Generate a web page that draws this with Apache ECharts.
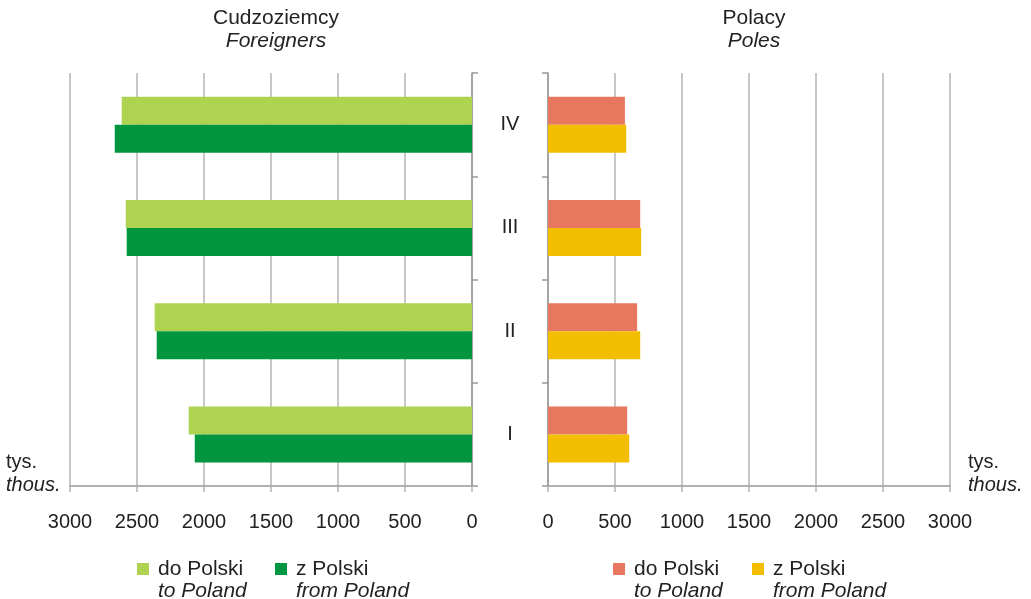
<!DOCTYPE html>
<html>
<head>
<meta charset="utf-8">
<script src="https://cdn.jsdelivr.net/npm/echarts@6/dist/echarts.min.js"></script>
<style>
  html, body { margin: 0; padding: 0; background: #fff; }
  #chart { width: 1031px; height: 599px; }
</style>
</head>
<body>
<div id="chart"></div>
<script>
// kwartaly (od dolu do gory)
const quarters = ['I', 'II', 'III', 'IV']
const valueTicks = [0, 500, 1000, 1500, 2000, 2500, 3000]

// Cudzoziemcy / Foreigners, tys.
const foreignToPoland = [2114, 2368, 2584, 2614]
const foreignFromPoland = [2069, 2353, 2577, 2666]

// Polacy / Poles, tys.
const polesToPoland = [591, 665, 688, 574]
const polesFromPoland = [606, 688, 695, 584]

const font = 'Liberation Sans, Arial, sans-serif'
const ink = '#222'
const gridGrey = '#b4b4b4'
const axisGrey = '#999'

const chart = echarts.init(document.getElementById('chart'), null, { renderer: 'canvas' })

function valueAxis(gridIndex, inverse) {
  return {
    type: 'value',
    gridIndex,
    inverse,
    min: valueTicks[0],
    max: valueTicks[valueTicks.length - 1],
    interval: 500,
    axisLine: { show: true, lineStyle: { color: axisGrey, width: 1.5 } },
    axisTick: { show: true, length: 6, lineStyle: { color: gridGrey, width: 1.5 } },
    splitLine: { show: true, lineStyle: { color: gridGrey, width: 1.5 } },
    axisLabel: {
      color: ink,
      fontSize: 20,
      fontFamily: font,
      margin: 26,
      formatter: v => String(v)
    }
  }
}

function catAxis(gridIndex, position, showLabel) {
  return {
    type: 'category',
    gridIndex,
    position,
    data: quarters,
    axisLine: { show: true, lineStyle: { color: axisGrey, width: 1.5 } },
    axisTick: { show: true, length: 6, lineStyle: { color: axisGrey, width: 1.5 } },
    axisLabel: {
      show: showLabel,
      color: ink,
      fontSize: 20,
      fontFamily: font,
      margin: 38,
      align: 'center'
    }
  }
}

function bar(name, data, color, idx) {
  return {
    name,
    type: 'bar',
    xAxisIndex: idx,
    yAxisIndex: idx,
    data,
    barWidth: 28,
    barGap: '0%',
    itemStyle: { color },
    animation: false
  }
}

const legendText = {
  e: { fontSize: 20, lineHeight: 22 },
  a: { fontSize: 21, lineHeight: 22, color: ink, fontFamily: font, padding: [0, 0, 0, 4] },
  b: { fontSize: 21, lineHeight: 22, color: ink, fontFamily: font, fontStyle: 'italic', padding: [0, 0, 0, 4] }
}
const legendLabels = {
  'Cudzoziemcy do Polski': ['do Polski', 'to Poland'],
  'Cudzoziemcy z Polski': ['z Polski', 'from Poland'],
  'Polacy do Polski': ['do Polski', 'to Poland'],
  'Polacy z Polski': ['z Polski', 'from Poland']
}
function legendItem(name, left) {
  return {
    data: [name],
    left,
    top: 532,
    icon: 'rect',
    itemWidth: 12,
    itemHeight: 12,
    selectedMode: false,
    formatter: n => '{e| }\n{a|' + legendLabels[n][0] + '}\n{b|' + legendLabels[n][1] + '}',
    textStyle: { rich: legendText }
  }
}

function label(text, x, y, italic) {
  return {
    type: 'text',
    left: x,
    top: y,
    style: {
      text,
      fill: ink,
      font: (italic ? 'italic ' : '') + '20px ' + font
    }
  }
}

const titleStyle = { color: ink, fontSize: 21, fontWeight: 'normal', fontFamily: font }
const subStyle = { color: ink, fontSize: 21, fontStyle: 'italic', fontFamily: font }

chart.setOption({
  animation: false,
  grid: [
    { left: 70, right: 559, top: 73, height: 413 },
    { left: 548, right: 81, top: 73, height: 413 }
  ],
  xAxis: [valueAxis(0, true), valueAxis(1, false)],
  yAxis: [catAxis(0, 'right', true), catAxis(1, 'left', false)],
  legend: [
    legendItem('Cudzoziemcy do Polski', 132),
    legendItem('Cudzoziemcy z Polski', 270),
    legendItem('Polacy do Polski', 608),
    legendItem('Polacy z Polski', 747)
  ],
  title: [
    {
      text: 'Cudzoziemcy',
      subtext: 'Foreigners',
      left: 271,
      top: 3,
      textAlign: 'center',
      itemGap: 2,
      textStyle: titleStyle,
      subtextStyle: subStyle
    },
    {
      text: 'Polacy',
      subtext: 'Poles',
      left: 749,
      top: 3,
      textAlign: 'center',
      itemGap: 2,
      textStyle: titleStyle,
      subtextStyle: subStyle
    }
  ],
  graphic: [
    label('tys.', 6, 452, false),
    label('thous.', 6, 475, true),
    label('tys.', 968, 452, false),
    label('thous.', 968, 475, true)
  ],
  series: [
    bar('Cudzoziemcy do Polski', foreignToPoland, '#add351', 0),
    bar('Cudzoziemcy z Polski', foreignFromPoland, '#009640', 0),
    bar('Polacy do Polski', polesToPoland, '#e87760', 1),
    bar('Polacy z Polski', polesFromPoland, '#f3be00', 1)
  ]
})
</script>
</body>
</html>
